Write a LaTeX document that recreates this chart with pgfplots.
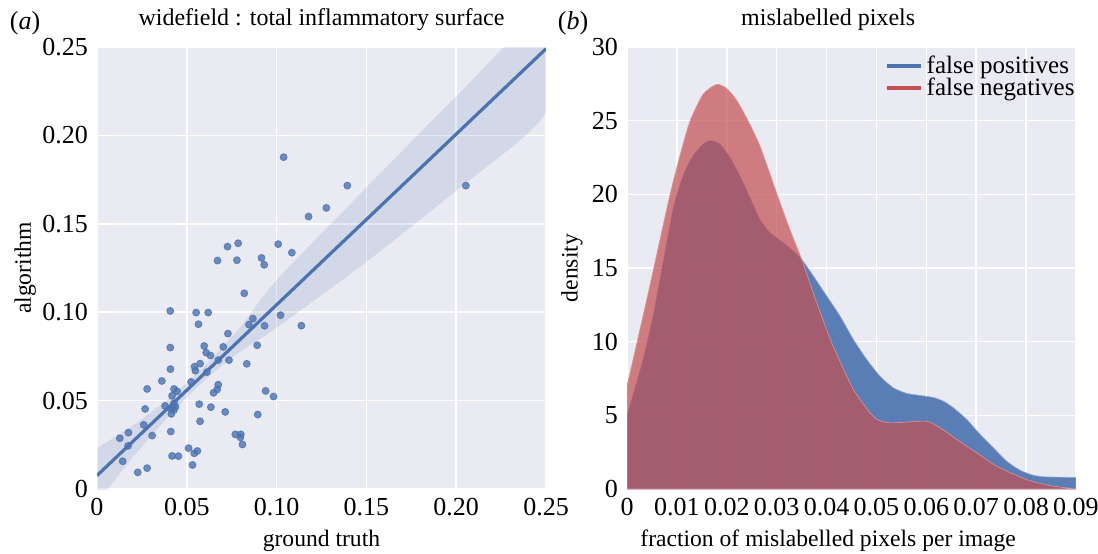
\documentclass[border=0pt]{standalone}
\usepackage{fontspec}
\setmainfont{Liberation Serif}
\usepackage{pgfplots}
\pgfplotsset{compat=1.18}
\definecolor{sbbg}{HTML}{EAEAF2}
\definecolor{sbblue}{HTML}{4C72B0}
\definecolor{sbred}{HTML}{C44E52}
\pgfplotsset{sb/.style={
  width=224.5pt, height=221pt, scale only axis,
  axis background/.style={fill=sbbg},
  axis line style={draw=none},
  grid=major, major grid style={white, line width=0.8pt},
  tick style={draw=none},
  scaled ticks=false,
  ticklabel style={font=\fontsize{13}{15}\selectfont},
  label style={font=\fontsize{11.8}{14}\selectfont},
  title style={font=\fontsize{12}{14}\selectfont, yshift=-1.5pt},
  xticklabel style={yshift=-1pt},
  yticklabel style={xshift=-1pt},
}}
\begin{document}
\begin{tikzpicture}
\useasboundingbox (0,0) rectangle (549pt,276.5pt);
\begin{axis}[sb, at={(48.5pt,32pt)}, anchor=south west,
  xmin=0, xmax=0.25, ymin=0, ymax=0.25,
  xtick={0,0.05,0.10,0.15,0.20,0.25}, xticklabels={0,0.05,0.10,0.15,0.20,0.25},
  ytick={0,0.05,0.10,0.15,0.20,0.25}, yticklabels={0,0.05,0.10,0.15,0.20,0.25},
  title={widefield : total inflammatory surface},
  xlabel={ground truth}, ylabel={algorithm},
  xlabel style={at={(axis description cs:0.5,-0.118)}, anchor=center},
  ylabel style={at={(axis description cs:-0.16,0.5)}, anchor=center}]
\addplot[draw=none, fill=sbblue, fill opacity=0.15, smooth, tension=0.4] coordinates {
(0,0.023) (0.02,0.036) (0.04,0.0512) (0.06,0.0696) (0.08,0.0919) (0.10,0.1182)
(0.15,0.1705) (0.20,0.222) (0.25,0.270)
(0.25,0.213) (0.20,0.1688) (0.15,0.1285) (0.10,0.0912) (0.08,0.0779) (0.06,0.0616)
(0.04,0.0412) (0.02,0.018) (0,-0.008)} -- cycle;
\addplot[only marks, mark=*, mark size=1.75pt, color=sbblue, opacity=0.8, mark options={fill=sbblue, draw=sbblue}] coordinates {
(0.0279,0.0566) (0.0361,0.0611) (0.0429,0.0566) (0.0446,0.0552) (0.0418,0.0527)
(0.0524,0.0606) (0.0675,0.0590) (0.0669,0.0563) (0.0649,0.0544) (0.0569,0.0480)
(0.0634,0.0463) (0.0714,0.0436) (0.0268,0.0453) (0.0379,0.0470) (0.0429,0.0485)
(0.0437,0.0464) (0.0413,0.0455) (0.0428,0.0447) (0.0414,0.0425) (0.0574,0.0383)
(0.0260,0.0363) (0.0175,0.0319) (0.0127,0.0287) (0.0307,0.0302) (0.0411,0.0325)
(0.0173,0.0244) (0.0143,0.0157) (0.0227,0.0094) (0.0279,0.0118) (0.0418,0.0187)
(0.0453,0.0186) (0.0510,0.0231) (0.0542,0.0202) (0.0559,0.0215) (0.0532,0.0136)
(0.0770,0.0309) (0.0801,0.0309) (0.0798,0.0292) (0.0810,0.0252) (0.0939,0.0555)
(0.0983,0.0523) (0.0895,0.0421) (0.0820,0.1107) (0.0408,0.1007) (0.0552,0.0998)
(0.0619,0.0998) (0.0565,0.0932) (0.0729,0.0879) (0.0846,0.0930) (0.0868,0.0964)
(0.0933,0.0923) (0.1022,0.0983) (0.1138,0.0924) (0.0408,0.0800) (0.0597,0.0809)
(0.0703,0.0804) (0.0608,0.0771) (0.0632,0.0755) (0.0675,0.0729) (0.0735,0.0729)
(0.0574,0.0709) (0.0543,0.0692) (0.0548,0.0669) (0.0612,0.0661) (0.0834,0.0708)
(0.0409,0.0678) (0.0892,0.0813) (0.1039,0.1877) (0.1394,0.1716) (0.1277,0.1590)
(0.1178,0.1541) (0.1009,0.1385) (0.1085,0.1337) (0.0727,0.1371) (0.0786,0.1390)
(0.0671,0.1292) (0.0779,0.1294) (0.0916,0.1307) (0.0931,0.1268) (0.2054,0.1716)};
\addplot[sbblue, line width=1.6pt] coordinates {(0,0.0076) (0.25,0.249)};
\end{axis}
\begin{axis}[sb, at={(313.5pt,32pt)}, anchor=south west,
  xmin=0, xmax=0.09, ymin=0, ymax=30,
  xtick={0,0.01,0.02,0.03,0.04,0.05,0.06,0.07,0.08,0.09},
  xticklabels={0,0.01,0.02,0.03,0.04,0.05,0.06,0.07,0.08,0.09},
  ytick={0,5,10,15,20,25,30}, yticklabels={0,5,10,15,20,25,30},
  title={mislabelled pixels},
  title style={at={(0.448,1)}},
  xlabel={fraction of mislabelled pixels per image}, ylabel={density},
  xlabel style={at={(axis description cs:0.448,-0.118)}, anchor=center},
  ylabel style={at={(axis description cs:-0.1225,0.5)}, anchor=center},
  legend style={draw=none, fill=none, at={(1.02,1.0)}, anchor=north east,
    font=\fontsize{12.5}{14}\selectfont, row sep=-3pt},
  legend cell align=left]
\addlegendimage{sbblue, line width=2pt}
\addlegendentry{false positives}
\addlegendimage{sbred, line width=2pt}
\addlegendentry{false negatives}
\addplot[draw=sbblue!60, line width=0.3pt, fill=sbblue, fill opacity=0.9, forget plot, smooth, tension=0.4] coordinates {
(0,4.99) (0.00321,8.80) (0.00522,11.75) (0.00723,15.37) (0.00923,19.0) (0.01124,21.27)
(0.01325,22.63) (0.01526,23.42) (0.01660,23.65) (0.01860,23.42) (0.02061,22.52)
(0.02262,21.27) (0.02463,19.80) (0.02663,18.32) (0.02864,17.41) (0.03132,16.73)
(0.03332,16.17) (0.03500,15.60) (0.03734,14.47) (0.04002,13.11) (0.04269,11.75)
(0.04537,10.16) (0.04805,8.80) (0.05072,7.66) (0.05340,6.87) (0.05608,6.49)
(0.05875,6.35) (0.06143,6.21) (0.06344,5.96) (0.06544,5.51) (0.06812,4.72)
(0.07080,3.70) (0.07347,2.79) (0.07615,1.88) (0.07883,1.27) (0.08150,0.93)
(0.08418,0.82) (0.09,0.79)} \closedcycle;
\addplot[draw=sbred!60, line width=0.3pt, fill=sbred, fill opacity=0.7, forget plot, smooth, tension=0.4] coordinates {
(0,6.98) (0.00428,13.33) (0.00857,19.9) (0.01124,23.4) (0.01278,25.1) (0.01526,26.8)
(0.01793,27.46) (0.01994,27.2) (0.02195,26.4) (0.02395,25.2) (0.02663,23.3)
(0.02998,20.1) (0.03266,17.6) (0.03500,15.6) (0.03734,13.3) (0.04002,10.8)
(0.04203,9.14) (0.04537,6.76) (0.04871,5.17) (0.0504,4.67) (0.05273,4.49)
(0.05608,4.54) (0.06009,4.60) (0.06277,4.15) (0.06611,3.36) (0.07013,2.45)
(0.07414,1.54) (0.08016,0.63) (0.08485,0.23) (0.09,0.0)} \closedcycle;
\end{axis}
\node[font=\fontsize{13}{15}\selectfont] at (12.5pt,265pt) {(\textit{a})};
\node[font=\fontsize{13}{15}\selectfont] at (286.5pt,265pt) {(\textit{b})};
\end{tikzpicture}
\end{document}
